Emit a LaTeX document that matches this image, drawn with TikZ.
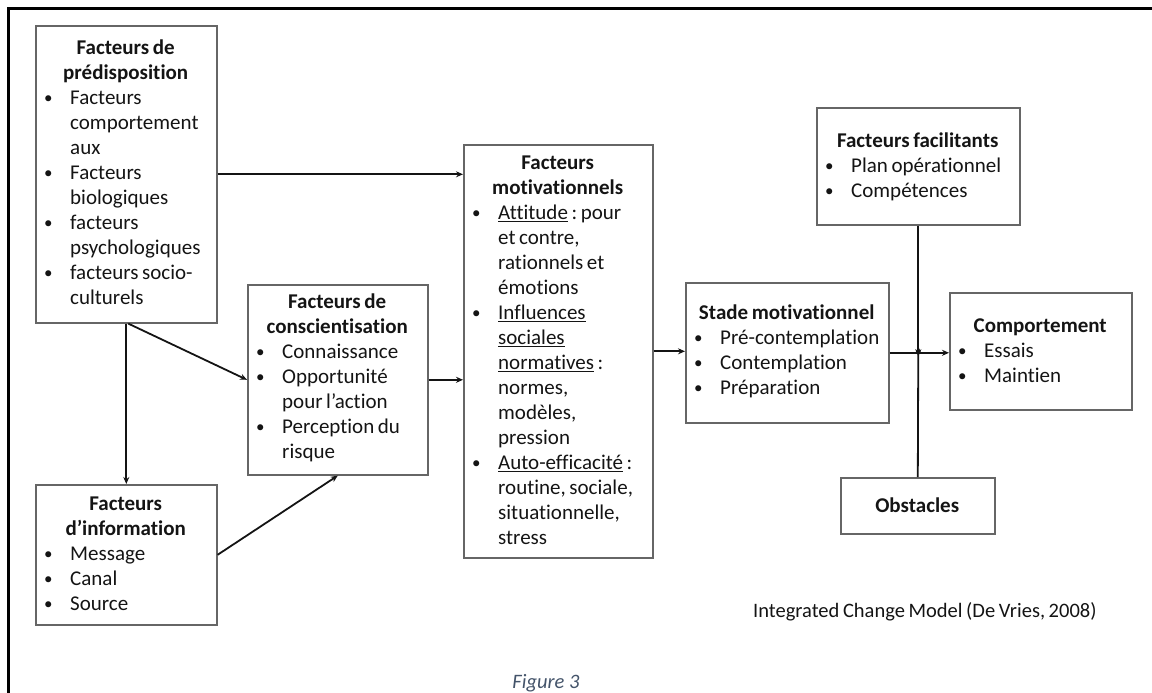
\documentclass[tikz,border=0pt]{standalone}
\usepackage{fontspec}
\setmainfont{Carlito}[Ligatures=NoCommon]
\usetikzlibrary{arrows.meta,calc}
\definecolor{ink}{HTML}{141414}
\definecolor{boxline}{HTML}{666666}
\definecolor{capblue}{HTML}{44546A}
\frenchspacing
\newcommand{\tsp}{\spaceskip=3.6pt plus 1pt\relax}
\newcommand{\ti}[1]{\makebox[\linewidth][c]{\bfseries #1}}
\newcommand{\bu}[1]{\hspace*{9pt}\makebox[26pt][l]{\raisebox{1pt}{\fontsize{17}{17}\selectfont\textbullet}}#1}
\newcommand{\co}[1]{\hspace*{35pt}#1}
\newcommand{\fr}{\rule{0pt}{18pt}}
\tikzset{
  box/.style={draw=boxline, line width=1.6pt, anchor=north west, inner sep=0pt},
  txt/.style={anchor=north west, inner sep=0pt, align=left, text=ink,
    font=\fontsize{21}{25}\selectfont, execute at begin node=\tsp},
  arr/.style={draw=ink, line width=1.8pt, -{Stealth[length=7pt,width=6pt]}}
}
\begin{document}
\begin{tikzpicture}[x=1pt,y=-1pt]
\useasboundingbox (0,0) rectangle (1152,693);
% frame
\draw[line width=2.8pt, black] (8.5,700) -- (8.5,8.5) -- (1160,8.5);
% boxes
\node[box, minimum width=181pt, minimum height=297pt] (pred) at (35,25) {};
\node[box, minimum width=180pt, minimum height=190pt] (consc) at (247,284) {};
\node[box, minimum width=181pt, minimum height=140pt] (info) at (35,484) {};
\node[box, minimum width=189pt, minimum height=413pt] (motiv) at (463,144) {};
\node[box, minimum width=203pt, minimum height=140pt] (stade) at (685,282) {};
\node[box, minimum width=203pt, minimum height=117pt] (facil) at (816,107) {};
\node[box, minimum width=182pt, minimum height=117pt] (comp) at (949,292) {};
\node[box, minimum width=154pt, minimum height=56pt] (obst) at (840,477) {};
% texts
\node[txt, text width=181pt] (predt) at (35,36) {\fr\ti{Facteurs de}\\
  \ti{prédisposition}\\
  \bu{Facteurs}\\
  \co{comportement}\\
  \co{aux}\\
  \bu{Facteurs}\\
  \co{biologiques}\\
  \bu{facteurs}\\
  \co{psychologiques}\\
  \bu{facteurs socio-}\\
  \co{culturels}};
\node[txt, text width=180pt] (consct) at (247,290) {\fr\ti{Facteurs de}\\
  \ti{conscientisation}\\
  \bu{Connaissance}\\
  \bu{Opportunité}\\
  \co{pour l’action}\\
  \bu{Perception du}\\
  \co{risque}};
\node[txt, text width=181pt] (infot) at (35,492) {\fr\ti{Facteurs}\\
  \ti{d’information}\\
  \bu{Message}\\
  \bu{Canal}\\
  \bu{Source}};
\node[txt, text width=189pt] (motivt) at (463,151) {\fr\ti{Facteurs}\\
  \ti{motivationnels}\\
  \bu{\underline{Attitude} : pour}\\
  \co{et contre,}\\
  \co{rationnels et}\\
  \co{émotions}\\
  \bu{\underline{Influences}}\\
  \co{\underline{sociales}}\\
  \co{\underline{normatives} :}\\
  \co{normes,}\\
  \co{modèles,}\\
  \co{pression}\\
  \bu{\underline{Auto-efficacité} :}\\
  \co{routine, sociale,}\\
  \co{situationnelle,}\\
  \co{stress}};
\node[txt, text width=203pt] (stadet) at (685,301) {\fr\ti{Stade motivationnel}\\
  \bu{Pré-contemplation}\\
  \bu{Contemplation}\\
  \bu{Préparation}};
\node[txt, text width=203pt] (facilt) at (816,129) {\fr\ti{Facteurs facilitants}\\
  \bu{Plan opérationnel}\\
  \bu{Compétences}};
\node[txt, text width=182pt] (compt) at (949,314) {\fr\ti{Comportement}\\
  \bu{Essais}\\
  \bu{Maintien}};
\node[txt, text width=154pt] (obstt) at (840,494) {\fr\ti{Obstacles}};
% connectors
\coordinate (J) at (facil.south |- comp.west);
\draw[arr] (pred.east) -- (pred.east -| motiv.west);
\draw[arr] (pred.south) -- (info.north);
\draw[arr] ([xshift=2pt]pred.south) -- (consc.west);
\draw[arr] (info.east) -- (consc.south);
\draw[arr] (consc.east) -- (consc.east -| motiv.west);
\draw[arr] (motiv.east) -- (motiv.east -| stade.west);
\draw[arr] (stade.east) -- (stade.east -| comp.west);
\draw[arr] (facil.south) -- ([yshift=-5pt]J);
\draw[arr] (obst.north) -- ([yshift=5pt]J);
% captions
\node[anchor=base west, inner sep=0pt, text=ink, font=\fontsize{20.5}{24}\selectfont, execute at begin node=\tsp] (icm) at (753,617) {Integrated Change Model (De Vries, 2008)};
\node[anchor=base, inner sep=0pt, text=capblue, font=\fontsize{20.5}{24}\selectfont\itshape] (fig) at (546,688) {Figure 3};
\end{tikzpicture}
\end{document}
